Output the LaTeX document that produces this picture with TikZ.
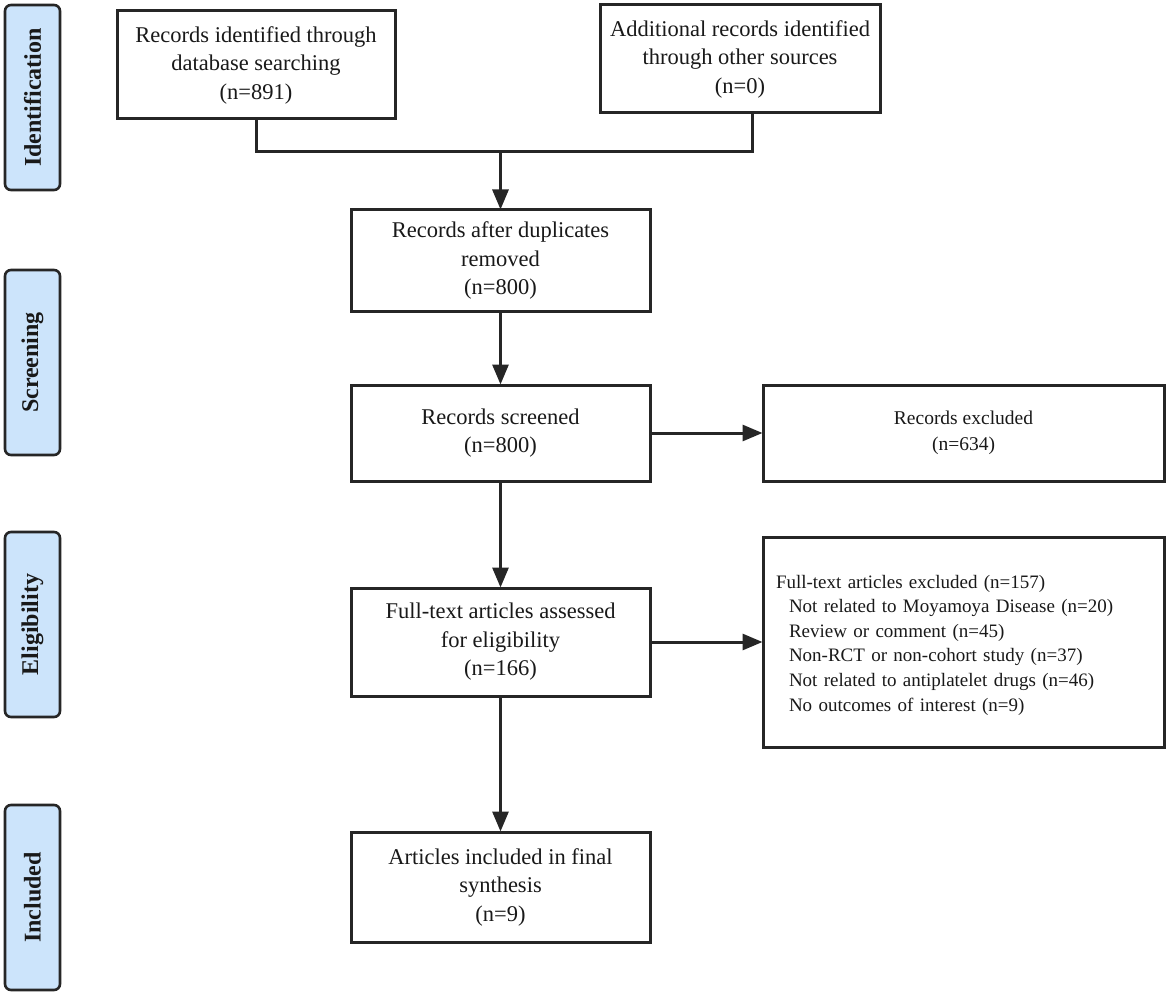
\documentclass[tikz,border=0pt]{standalone}
\usepackage{fontspec}
\setmainfont{Liberation Serif}
\usetikzlibrary{arrows.meta}
\definecolor{edge}{HTML}{262626}
\definecolor{phasefill}{HTML}{CCE4FB}
\begin{document}
\begin{tikzpicture}[x=1pt,y=-1pt,
  box/.style={draw=edge, line width=3pt, fill=white, align=center, inner sep=0pt,
    font=\fontsize{22.5}{28.5}\selectfont, text=black!90},
  phase/.style={draw=edge, line width=2.6pt, fill=phasefill, rounded corners=6pt,
    rotate=90, minimum width=185pt, minimum height=55pt, inner sep=0pt,
    font=\fontsize{24}{28}\selectfont\bfseries, text=black!90},
  conn/.style={draw=edge, line width=3pt},
  arr/.style={conn, -{Triangle[length=20pt,width=16pt]}, shorten >=-1pt}
]
\useasboundingbox (0,0) rectangle (1170,995);

% phase labels
\node[phase] (pid) at (32.5,97.5) {Identification};
\node[phase] (psc) at (32.5,362.5) {Screening};
\node[phase] (pel) at (32.5,624.5) {Eligibility};
\node[phase] (pin) at (32.5,897.5) {Included};

% main boxes
\node[box, minimum width=278pt, minimum height=108pt] (b1) at (256,65)
  {Records identified through\\database searching\\(n=891)};
\node[box, minimum width=280pt, minimum height=108pt] (b2) at (740,59)
  {Additional records identified\\through other sources\\(n=0)};
\node[box, minimum width=299pt, minimum height=101pt] (b3) at (500.5,260.5)
  {Records after duplicates\\removed\\(n=800)};
\node[box, minimum width=299pt, minimum height=96pt] (b4) at (500.5,433)
  {Records screened\\(n=800)};
\node[box, minimum width=401pt, minimum height=96pt, font=\fontsize{19.5}{26}\selectfont] (e1) at (963.5,433)
  {Records excluded\\(n=634)};
\node[box, minimum width=299pt, minimum height=108pt] (b5) at (500.5,642)
  {Full-text articles assessed\\for eligibility\\(n=166)};
\node[box, minimum width=401pt, minimum height=210pt] (e2) at (963.5,642) {};
\node[text width=375pt, align=left, inner sep=0pt, text=black!90,
  font=\fontsize{19}{24.6}\selectfont] (e2t) at ([yshift=-3pt]e2.center)
  {Full-text articles excluded (n=157)\\
   \hspace*{13pt}Not related to Moyamoya Disease (n=20)\\
   \hspace*{13pt}Review or comment (n=45)\\
   \hspace*{13pt}Non-RCT or non-cohort study (n=37)\\
   \hspace*{13pt}Not related to antiplatelet drugs (n=46)\\
   \hspace*{13pt}No outcomes of interest (n=9)};
\node[box, minimum width=299pt, minimum height=110pt] (b6) at (500.5,887)
  {Articles included in final\\synthesis\\(n=9)};

% connectors
\coordinate (j) at (b3.north |- 0,152);
\draw[conn] (b1.south) |- (j);
\draw[conn] ([xshift=12pt]b2.south) |- (j);
\draw[arr] (j) -- (b3.north);
\draw[arr] (b3.south) -- (b4.north);
\draw[arr] (b4.east) -- (e1.west);
\draw[arr] (b4.south) -- (b5.north);
\draw[arr] (b5.east) -- (b5.east -| e2.west);
\draw[arr] (b5.south) -- (b6.north);
\end{tikzpicture}
\end{document}
